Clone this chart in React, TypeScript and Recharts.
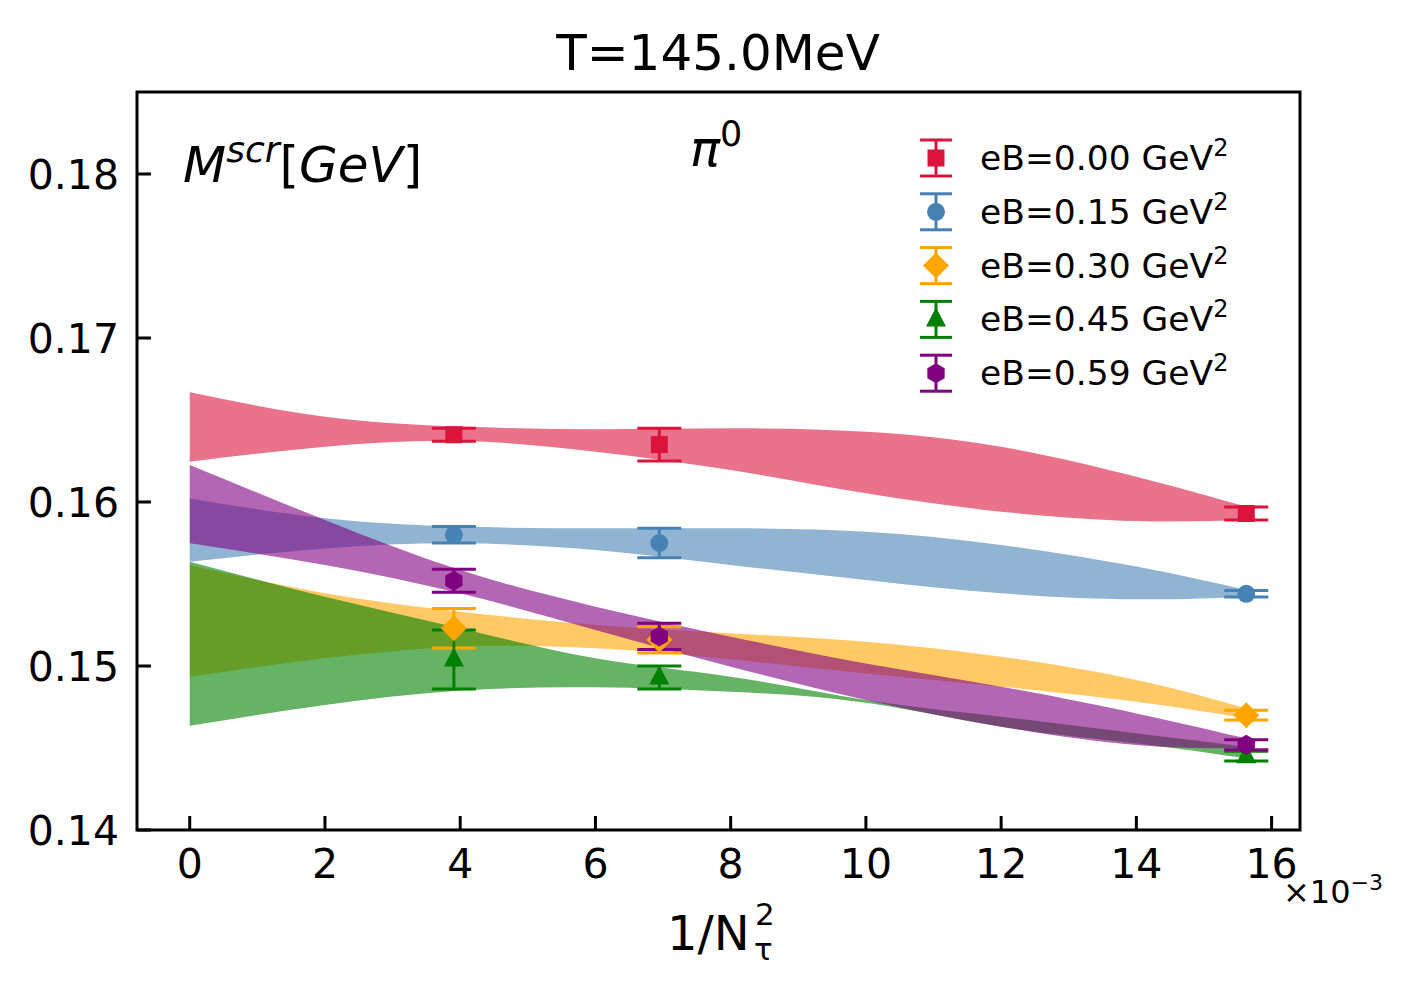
import React from "react";
import { Area, ComposedChart, ErrorBar, ReferenceArea, Scatter, XAxis, YAxis } from "recharts";

const FONT = "'DejaVu Sans', sans-serif";

// x axis is 1/Ntau^2 in units of 1e-3 (Ntau = 16, 12, 8)
const latticeX = [3.90625, 6.94444, 15.625];

const eBLabels = ["0.00", "0.15", "0.30", "0.45", "0.59"];
const colors = ["#dc143c", "#4682b4", "#ffa500", "#008000", "#800080"];
const markerKinds = ["square", "circle", "diamond", "triangle", "hexagon"];

// screening masses [GeV] and errors per eB
const mass000 = [0.1641, 0.1635, 0.1593];
const err000 = [0.0004, 0.001, 0.0004];
const mass015 = [0.158, 0.1575, 0.1544];
const err015 = [0.0005, 0.0009, 0.0002];
const mass030 = [0.1523, 0.1516, 0.147];
const err030 = [0.0012, 0.0008, 0.0003];
const mass045 = [0.1504, 0.1493, 0.1445];
const err045 = [0.0018, 0.0007, 0.0003];
const mass059 = [0.1552, 0.1518, 0.1452];
const err059 = [0.0007, 0.0008, 0.0003];

// continuum extrapolation bands, sampled along x
const bandX = [0, 2, 4, 6, 8, 10, 12, 14, 15.625];
const bandLo000 = [0.16246, 0.16337, 0.16372, 0.16307, 0.16195, 0.16053, 0.15941, 0.15884, 0.1589];
const bandHi000 = [0.16669, 0.1652, 0.1646, 0.16443, 0.16449, 0.16429, 0.16337, 0.16154, 0.15971];
const bandLo015 = [0.15636, 0.15717, 0.15748, 0.15707, 0.15616, 0.15524, 0.15443, 0.15407, 0.15423];
const bandHi015 = [0.16022, 0.15901, 0.1585, 0.1584, 0.1584, 0.15819, 0.15738, 0.15606, 0.15463];
const bandLo030 = [0.14935, 0.15047, 0.15118, 0.15108, 0.15041, 0.14955, 0.14874, 0.14782, 0.14681];
const bandHi030 = [0.15616, 0.15443, 0.15331, 0.1525, 0.15199, 0.15148, 0.15057, 0.14915, 0.14742];
const bandLo045 = [0.14636, 0.14762, 0.1485, 0.1487, 0.14843, 0.14776, 0.1463, 0.14528, 0.14437];
const bandHi045 = [0.15636, 0.15423, 0.1523, 0.15047, 0.14935, 0.14793, 0.14691, 0.1459, 0.14508];
const bandLo059 = [0.15748, 0.15616, 0.15443, 0.1522, 0.14996, 0.14793, 0.1463, 0.14518, 0.14498];
const bandHi059 = [0.16226, 0.1589, 0.15585, 0.15362, 0.15179, 0.15016, 0.14874, 0.14711, 0.14559];

const xTicks = [0, 2, 4, 6, 8, 10, 12, 14, 16];
const yTicks = [0.14, 0.15, 0.16, 0.17, 0.18];

const masses = [mass000, mass015, mass030, mass045, mass059];
const errors = [err000, err015, err030, err045, err059];
const bandLo = [bandLo000, bandLo015, bandLo030, bandLo045, bandLo059];
const bandHi = [bandHi000, bandHi015, bandHi030, bandHi045, bandHi059];

const bandRows = bandX.map((x, i) => {
  const row: Record<string, any> = { x };
  bandLo.forEach((lo, s) => {
    row[`b${s}`] = [lo[i], bandHi[s][i]];
  });
  return row;
});

const pointSets = masses.map((m, s) =>
  latticeX.map((x, i) => ({ x, y: m[i], err: errors[s][i] }))
);

function Marker({ cx, cy, kind, color }: { cx: number; cy: number; kind: string; color: string }) {
  if (kind === "square") return <rect x={cx - 8.5} y={cy - 8.5} width={17} height={17} fill={color} />;
  if (kind === "circle") return <circle cx={cx} cy={cy} r={9} fill={color} />;
  if (kind === "diamond")
    return <polygon points={`${cx},${cy - 13} ${cx + 13},${cy} ${cx},${cy + 13} ${cx - 13},${cy}`} fill={color} />;
  if (kind === "triangle")
    return <polygon points={`${cx},${cy - 12} ${cx + 10},${cy + 7} ${cx - 10},${cy + 7}`} fill={color} />;
  const pts = [];
  for (let k = 0; k < 6; k++) {
    const a = (Math.PI / 3) * k - Math.PI / 2;
    pts.push(`${cx + 10 * Math.cos(a)},${cy + 10 * Math.sin(a)}`);
  }
  return <polygon points={pts.join(" ")} fill={color} />;
}

function XTick(props: any) {
  const { x, y, payload } = props;
  return (
    <g>
      <line x1={x} y1={y} x2={x} y2={y - 14} stroke="#000" strokeWidth={3} />
      <text x={x} y={y + 48} textAnchor="middle" fontSize={41} fontFamily={FONT} fill="#000">
        {payload.value}
      </text>
    </g>
  );
}

function YTick(props: any) {
  const { x, y, payload } = props;
  return (
    <g>
      <line x1={x} y1={y} x2={x + 14} y2={y} stroke="#000" strokeWidth={3} />
      <text x={x - 18} y={y + 15} textAnchor="end" fontSize={41} fontFamily={FONT} fill="#000">
        {Number(payload.value).toFixed(2)}
      </text>
    </g>
  );
}

function Overlay() {
  const legendTop = 158;
  const legendStep = 53.8;
  return (
    <svg width={1416} height={993} style={{ position: "absolute", left: 0, top: 0, pointerEvents: "none" }}>
      <text x={718} y={70} textAnchor="middle" fontSize={50} fontFamily={FONT}>
        T=145.0MeV
      </text>
      <text x={183} y={182} fontSize={50} fontFamily={FONT}>
        <tspan fontStyle="italic">M</tspan>
        <tspan fontSize={36} dy={-20} fontStyle="italic">scr</tspan>
        <tspan dy={20}>[</tspan>
        <tspan fontStyle="italic">GeV</tspan>
        <tspan>]</tspan>
      </text>
      <text x={690} y={166} fontSize={50} fontFamily={FONT}>
        <tspan fontStyle="italic">π</tspan>
        <tspan fontSize={35} dy={-20}>0</tspan>
      </text>
      <text x={667} y={950} fontSize={48} fontFamily={FONT}>
        1/N
      </text>
      <text x={755} y={925} fontSize={31} fontFamily={FONT}>
        2
      </text>
      <text x={754} y={960} fontSize={31} fontFamily={FONT}>
        τ
      </text>
      <text x={1283} y={903} fontSize={32} fontFamily={FONT}>
        ×10
        <tspan fontSize={22} dy={-13}>−3</tspan>
      </text>
      {eBLabels.map((lab, s) => {
        const cy = legendTop + s * legendStep;
        return (
          <g key={lab}>
            <line x1={936} y1={cy - 18} x2={936} y2={cy + 18} stroke={colors[s]} strokeWidth={3} />
            <line x1={920} y1={cy - 18} x2={952} y2={cy - 18} stroke={colors[s]} strokeWidth={3} />
            <line x1={920} y1={cy + 18} x2={952} y2={cy + 18} stroke={colors[s]} strokeWidth={3} />
            <Marker cx={936} cy={cy} kind={markerKinds[s]} color={colors[s]} />
            <text x={980} y={cy + 12} fontSize={34.5} fontFamily={FONT}>
              {`eB=${lab} GeV`}
              <tspan fontSize={24} dy={-14}>2</tspan>
            </text>
          </g>
        );
      })}
    </svg>
  );
}

export default function App() {
  return (
    <div style={{ position: "relative", width: 1416, height: 993, background: "#fff" }}>
      <style>{"body{margin:0}"}</style>
      <ComposedChart
        width={1416}
        height={993}
        data={bandRows}
        margin={{ top: 92, right: 116, bottom: 123, left: 57 }}
      >
        <XAxis
          type="number"
          dataKey="x"
          domain={[-0.78, 16.42]}
          ticks={xTicks}
          interval={0}
          allowDataOverflow
          axisLine={false}
          tickSize={0}
          tickMargin={0}
          height={40}
          tick={<XTick />}
        />
        <YAxis
          type="number"
          domain={[0.14, 0.185]}
          ticks={yTicks}
          interval={0}
          allowDataOverflow
          axisLine={false}
          tickSize={0}
          tickMargin={0}
          width={80}
          tick={<YTick />}
        />
        {colors.map((c, s) => (
          <Area
            key={`band${s}`}
            dataKey={`b${s}`}
            type="natural"
            stroke="none"
            fill={c}
            fillOpacity={0.6}
            dot={false}
            activeDot={false}
            isAnimationActive={false}
          />
        ))}
        {colors.map((c, s) => (
          <Scatter
            key={`pts${s}`}
            data={pointSets[s]}
            dataKey="y"
            fill={c}
            isAnimationActive={false}
            shape={(p: any) => <Marker cx={p.cx} cy={p.cy} kind={markerKinds[s]} color={c} />}
          >
            <ErrorBar dataKey="err" direction="y" width={22} strokeWidth={3} stroke={c} />
          </Scatter>
        ))}
        <ReferenceArea
          x1={-0.78}
          x2={16.42}
          y1={0.14}
          y2={0.185}
          fill="none"
          stroke="#000"
          strokeWidth={3}
          ifOverflow="visible"
        />
      </ComposedChart>
      <Overlay />
    </div>
  );
}
